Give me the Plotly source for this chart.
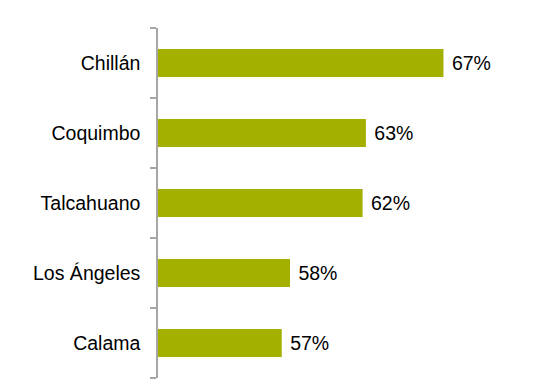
import plotly.graph_objects as go

categories = ["Chillán", "Coquimbo", "Talcahuano", "Los Ángeles", "Calama"]
values = [67.3, 62.6, 62.4, 58.0, 57.5]
value_labels = ["67%", "63%", "62%", "58%", "57%"]
axis_start = 50

fig = go.Figure(go.Bar(
    y=categories,
    x=[v - axis_start for v in values],
    base=axis_start,
    orientation="h",
    width=0.4,
    marker=dict(color="#A3B000", line=dict(width=0)),
    text=[" " + t for t in value_labels],
    textposition="outside",
    textfont=dict(family="Liberation Sans, Arial, sans-serif", size=19.5, color="#000000"),
    cliponaxis=False,
))

fig.update_layout(
    width=549, height=387,
    margin=dict(l=158, r=61, t=28, b=9),
    paper_bgcolor="white", plot_bgcolor="white",
    showlegend=False,
    font=dict(family="Liberation Sans, Arial, sans-serif", size=19.5, color="#000000"),
    xaxis=dict(range=[axis_start, 70], visible=False),
    yaxis=dict(
        categoryorder="array", categoryarray=categories[::-1],
        showline=True, linecolor="#A6A6A6", linewidth=1.5,
        ticks="outside", ticklen=6, tickcolor="#A6A6A6", tickwidth=1.5,
        tickson="boundaries", showgrid=False, zeroline=False,
        ticklabelstandoff=12,
    ),
)

fig.write_html("out.html")
